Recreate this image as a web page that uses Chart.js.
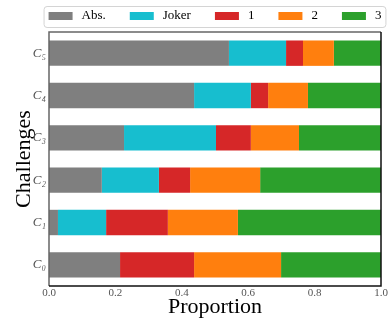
<!DOCTYPE html>
<html lang="en">
<head>
<meta charset="UTF-8">
<title>Challenges proportions</title>
<script src="https://cdn.jsdelivr.net/npm/chart.js@4.4.0/dist/chart.umd.min.js"></script>
<style>
  body { margin: 0; background: #fff; }
  #wrap { width: 390px; height: 322px; }
</style>
</head>
<body>
<div id="wrap"><canvas id="chart" width="390" height="322"></canvas></div>
<script>
// categories (bottom to top)
const challenges = ['C₀', 'C₁', 'C₂', 'C₃', 'C₄', 'C₅'];
const seriesNames = ['Abs.', 'Joker', '1', '2', '3'];
const seriesColors = ['#7f7f7f', '#17becf', '#d62728', '#ff7f0e', '#2ca02c'];

// proportions per challenge, C0..C5
const absVals   = [0.214, 0.027, 0.159, 0.226, 0.437, 0.542];
const jokerVals = [0.000, 0.145, 0.172, 0.277, 0.171, 0.172];
const oneVals   = [0.223, 0.186, 0.094, 0.105, 0.052, 0.051];
const twoVals   = [0.262, 0.211, 0.211, 0.145, 0.120, 0.093];
const threeVals = [0.301, 0.431, 0.364, 0.247, 0.220, 0.142];

const xTicks = [0, 0.2, 0.4, 0.6, 0.8, 1.0];

const serif = "'Liberation Serif', 'DejaVu Serif', serif";

const allVals = [absVals, jokerVals, oneVals, twoVals, threeVals];
const datasets = seriesNames.map((name, i) => ({
    label: name,
    data: allVals[i],
    backgroundColor: seriesColors[i],
    borderWidth: 0,
    barPercentage: 0.6,
    categoryPercentage: 1.0
}));

// matplotlib-like framed legend above the axes
const boxLegend = {
    id: 'boxLegend',
    afterDraw(chart) {
        const ctx = chart.ctx;
        const area = chart.chartArea;
        const sw = 24, gap = 9, colGap = 24;
        ctx.save();
        ctx.font = '13px ' + serif;
        const widths = chart.data.datasets.map(d => ctx.measureText(d.label).width);
        let total = widths.reduce((a, w) => a + sw + gap + w, 0) + colGap * (widths.length - 1);
        const cx = (area.left + area.right) / 2;
        let x = cx - total / 2;
        const top = 6, h = 21, midY = 16;

        ctx.beginPath();
        ctx.roundRect(x - 4.5, top + 0.5, total + 9, h, 3);
        ctx.fillStyle = '#fff';
        ctx.fill();
        ctx.strokeStyle = '#d4d4d4';
        ctx.lineWidth = 1;
        ctx.stroke();

        ctx.textBaseline = 'middle';
        ctx.textAlign = 'left';
        chart.data.datasets.forEach((d, i) => {
            ctx.fillStyle = d.backgroundColor;
            ctx.fillRect(x, midY - 4, sw, 8);
            ctx.fillStyle = '#000';
            ctx.fillText(d.label, x + sw + gap, midY);
            x += sw + gap + widths[i] + colGap;
        });
        ctx.restore();
    }
};

// axes frame
const frame = {
    id: 'frame',
    afterDatasetsDraw(chart) {
        const {left, right, top, bottom} = chart.chartArea;
        const ctx = chart.ctx;
        ctx.save();
        ctx.lineWidth = 1.5;
        ctx.strokeStyle = '#666';
        ctx.beginPath();
        ctx.moveTo(left, bottom); ctx.lineTo(left, top); ctx.lineTo(right, top);
        ctx.stroke();
        ctx.strokeStyle = '#111';
        ctx.beginPath();
        ctx.moveTo(right, top); ctx.lineTo(right, bottom); ctx.lineTo(left, bottom);
        ctx.stroke();
        ctx.restore();
    }
};

new Chart(document.getElementById('chart'), {
    type: 'bar',
    data: { labels: challenges, datasets: datasets },
    options: {
        indexAxis: 'y',
        responsive: false,
        animation: false,
        layout: { padding: { top: 32, right: 9, left: 0, bottom: 0 } },
        plugins: {
            legend: { display: false },
            tooltip: { enabled: false }
        },
        scales: {
            x: {
                stacked: true,
                min: 0,
                max: 1,
                afterBuildTicks: s => { s.ticks = xTicks.map(v => ({ value: v })); },
                afterFit: s => { s.height = 36; },
                grid: { display: false, drawTicks: false },
                border: { display: false },
                ticks: {
                    padding: 1,
                    color: '#555',
                    font: { family: serif, size: 11 },
                    callback: v => Number(v).toFixed(1)
                },
                title: {
                    display: true,
                    text: 'Proportion',
                    color: '#000',
                    font: { family: serif, size: 22 },
                    padding: { top: 0, bottom: 2 }
                }
            },
            y: {
                stacked: true,
                reverse: true,
                afterFit: s => { s.width = 49; },
                grid: { display: false, drawTicks: false },
                border: { display: false },
                ticks: {
                    padding: 3,
                    color: '#555',
                    font: { family: serif, size: 13, style: 'italic' }
                },
                title: {
                    display: true,
                    text: 'Challenges',
                    color: '#000',
                    font: { family: serif, size: 22 },
                    padding: { top: 11, bottom: 0 }
                }
            }
        }
    },
    plugins: [boxLegend, frame]
});
</script>
</body>
</html>
